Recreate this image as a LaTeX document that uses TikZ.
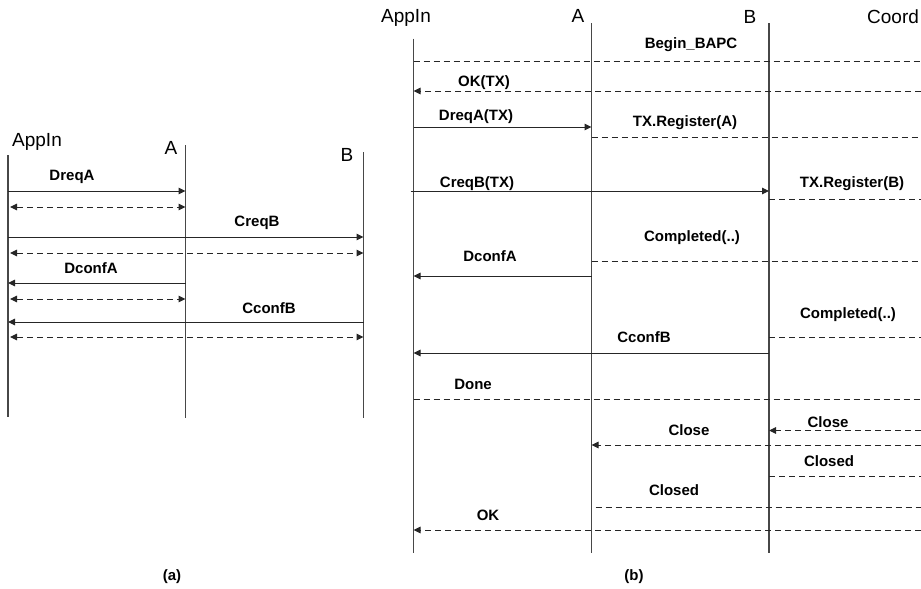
\documentclass[tikz,border=0pt]{standalone}
\usepackage{fontspec}
\setmainfont{Liberation Sans}
\usetikzlibrary{arrows.meta}
\begin{document}
\begin{tikzpicture}[x=1pt,y=-1pt,
  tip/.tip={Triangle[length=7pt,width=6.5pt]},
  life/.style={draw=black!72,line width=1.1pt},
  plain/.style={draw=black!85,line width=1pt},
  msg/.style={plain,-tip},
  dplain/.style={plain,dash pattern=on 6pt off 4pt},
  dmsg/.style={dplain,-tip},
  both/.style={dplain,tip-tip},
  lbl/.style={font=\bfseries\fontsize{15}{18}\selectfont,inner sep=0pt},
  head/.style={font=\fontsize{19}{22}\selectfont,inner sep=0pt}]
\useasboundingbox (0,0) rectangle (921,589);

% ---------- (a) direct calls ----------
\coordinate (la0) at (8,155);     \coordinate (la1) at (8,417);
\coordinate (lA0) at (185.5,145); \coordinate (lA1) at (185.5,418);
\coordinate (lB0) at (363.5,152); \coordinate (lB1) at (363.5,418);
\draw[life] (la0) -- (la1);
\draw[life] (lA0) -- (lA1);
\draw[life] (lB0) -- (lB1);
\node[head] (hLa) at (37,142) {AppIn};
\node[head] (hLA) at (171,148) {A};
\node[head] (hLB) at (347,155) {B};

\coordinate (ly1) at (0,191);
\coordinate (ly2) at (0,207);
\coordinate (ly3) at (0,237);
\coordinate (ly4) at (0,253);
\coordinate (ly5) at (0,283);
\coordinate (ly6) at (0,299);
\coordinate (ly7) at (0,322);
\coordinate (ly8) at (0,337);

\draw[msg] (la0 |- ly1) -- (lA0 |- ly1);
\node[lbl] (tL1) at (72,177) {DreqA};
\draw[both,shorten <=2pt] (la0 |- ly2) -- (lA0 |- ly2);
\draw[msg] (la0 |- ly3) -- (lB0 |- ly3);
\node[lbl] (tL3) at (257,223) {CreqB};
\draw[both,shorten <=2pt] (la0 |- ly4) -- (lB0 |- ly4);
\draw[msg] (lA0 |- ly5) -- (la0 |- ly5);
\node[lbl] (tL5) at (91,268) {DconfA};
\draw[both,shorten <=2pt] (la0 |- ly6) -- (lA0 |- ly6);
\draw[msg] (lB0 |- ly7) -- (la0 |- ly7);
\node[lbl] (tL7) at (269,308) {CconfB};
\draw[both,shorten <=2pt] (la0 |- ly8) -- (lB0 |- ly8);

\node[lbl] (capa) at (172,577) {(a)};

% ---------- (b) calls with the coordinator ----------
\coordinate (ra0) at (413.5,38.5); \coordinate (ra1) at (413.5,553);
\coordinate (rA0) at (591.5,23);   \coordinate (rA1) at (591.5,553);
\coordinate (rB0) at (769,23);     \coordinate (rB1) at (769,553);
\coordinate (edge) at (921,0);
\draw[life] (ra0) -- (ra1);
\draw[life] (rA0) -- (rA1);
\draw[life] (rB0) -- (rB1);
\node[head] (hRa) at (406,18) {AppIn};
\node[head] (hRA) at (578,16) {A};
\node[head] (hRB) at (750,17) {B};
\node[head,anchor=west] (hRC) at (867,17) {Coord};

\coordinate (ry1) at (0,61);
\coordinate (ry2) at (0,91);
\coordinate (ry3) at (0,127);
\coordinate (ry4) at (0,137);
\coordinate (ry5) at (0,191);
\coordinate (ry6) at (0,199);
\coordinate (ry7) at (0,261);
\coordinate (ry8) at (0,276);
\coordinate (ry9) at (0,337);
\coordinate (ry10) at (0,353);
\coordinate (ry11) at (0,399);
\coordinate (ry12) at (0,430.5);
\coordinate (ry13) at (0,445);
\coordinate (ry14) at (0,476);
\coordinate (ry15) at (0,507);
\coordinate (ry16) at (0,530);

\draw[dplain] (ra0 |- ry1) -- (edge |- ry1);
\node[lbl] (tR1) at (691,45) {Begin\_BAPC};
\draw[dmsg] (edge |- ry2) -- (ra0 |- ry2);
\node[lbl] (tR2) at (484,83) {OK(TX)};
\draw[msg] (ra0 |- ry3) -- (rA0 |- ry3);
\node[lbl] (tR3) at (476,117) {DreqA(TX)};
\draw[dplain] (rA0 |- ry4) -- (edge |- ry4);
\node[lbl] (tR4) at (685,123) {TX.Register(A)};
\draw[msg,shorten <=-3pt] (ra0 |- ry5) -- (rB0 |- ry5);
\node[lbl] (tR5) at (477,184) {CreqB(TX)};
\draw[dplain] (rB0 |- ry6) -- (edge |- ry6);
\node[lbl] (tR6) at (852,184) {TX.Register(B)};
\draw[dplain] (rA0 |- ry7) -- (edge |- ry7);
\node[lbl] (tR7) at (692,238) {Completed(..)};
\draw[msg] (rA0 |- ry8) -- (ra0 |- ry8);
\node[lbl] (tR8) at (490,256) {DconfA};
\draw[dplain] (rB0 |- ry9) -- (edge |- ry9);
\node[lbl] (tR9) at (848,315) {Completed(..)};
\draw[msg] (rB0 |- ry10) -- (ra0 |- ry10);
\node[lbl] (tR10) at (644,337) {CconfB};
\draw[dplain] (ra0 |- ry11) -- (edge |- ry11);
\node[lbl] (tR11) at (473,384) {Done};
\draw[dmsg] (edge |- ry12) -- (rB0 |- ry12);
\node[lbl] (tR12) at (828,422) {Close};
\draw[dmsg] (edge |- ry13) -- (rA0 |- ry13);
\node[lbl] (tR13) at (689,430) {Close};
\draw[dplain] (rB0 |- ry14) -- (edge |- ry14);
\node[lbl] (tR14) at (829,461) {Closed};
\draw[dplain,shorten <=4pt] (rA0 |- ry15) -- (edge |- ry15);
\node[lbl] (tR15) at (674,490) {Closed};
\draw[dmsg] (edge |- ry16) -- (ra0 |- ry16);
\node[lbl] (tR16) at (488,515) {OK};

\node[lbl] (capb) at (634,577) {(b)};
\end{tikzpicture}
\end{document}
